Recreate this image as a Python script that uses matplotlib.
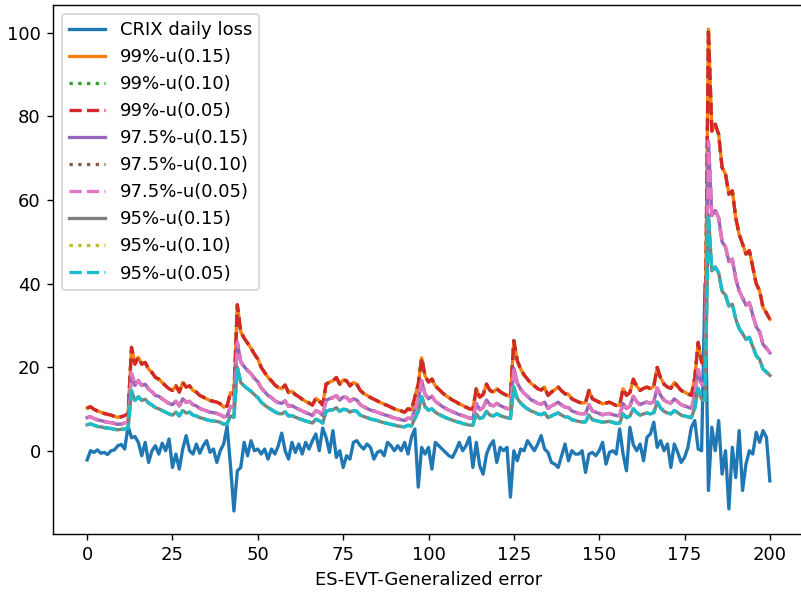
import matplotlib
matplotlib.use("Agg")
import matplotlib.pyplot as plt
import numpy as np

days = np.arange(201)

crix_loss = [
    -2.1, 0.1, -0.3, 0.3, -0.5, -0.3, -0.8, 0.1, 0.3, 1.3,
    1.6, 0.5, 6.0, 3.2, 3.5, 2.1, -1.1, 2.1, -2.7, 0.1,
    1.3, -0.7, 1.9, 0.1, 2.9, -3.9, -0.7, -4.3, 0.5, 3.7,
    0.1, -0.7, 1.7, -0.5, 1.3, 2.5, -0.3, 0.5, -2.7, 0.1,
    1.7, 6.0, -3.5, -14.3, -4.7, -3.9, 2.1, -1.1, 2.5, 0.1,
    0.5, -0.7, 0.5, -1.9, 0.5, -0.7, 1.3, 4.3, 0.1, -1.9,
    2.1, -0.3, 1.7, -0.7, 2.1, 0.5, 2.5, 4.1, 0.1, 5.5,
    3.3, -0.3, 4.9, -1.5, 0.1, -3.9, -1.1, -1.9, 2.1, 2.5,
    1.3, 0.5, 1.7, 0.9, -1.9, -0.3, 0.1, -1.1, 2.1, 1.3,
    0.1, 1.3, 0.1, 2.1, -0.7, 3.3, 5.3, -8.6, 0.9, -0.7,
    0.9, -4.3, 2.1, 1.3, 0.5, -0.3, -1.1, -1.5, 0.1, 2.1,
    0.1, 1.3, 3.3, -3.9, 2.1, -3.5, -5.5, -0.7, 1.3, 2.5,
    -2.7, 0.9, 0.1, 0.9, -11.0, 0.1, -2.3, 0.5, 0.1, 2.5,
    1.3, 0.1, 1.7, 3.7, 0.5, -0.3, -2.7, -3.1, -3.9, -1.1,
    1.7, -2.3, 0.1, -0.7, -0.7, 0.1, -5.1, -0.7, -0.3, -1.1,
    0.1, 2.1, -3.1, -0.3, 0.1, -0.7, 5.3, -0.7, -4.7, 5.7,
    1.5, 0.1, 1.7, -2.3, 3.3, 4.1, 6.9, 0.9, 2.5, 0.1,
    1.7, -3.9, 1.7, -0.3, -2.7, -1.5, 0.9, 5.7, 7.3, 0.5,
    0.1, 40.0, -9.4, 5.7, 0.1, 7.3, -5.5, 0.1, -13.8, 0.9,
    -6.3, 4.9, -9.4, -3.1, 0.1, -0.7, 4.5, 2.1, 4.9, 3.3,
    -7.1,
]

es_99 = [
    10.3, 10.6, 10.0, 9.6, 9.3, 9.0, 8.8, 8.6, 8.3, 8.1,
    8.2, 8.5, 8.9, 24.8, 20.8, 22.4, 20.8, 21.2, 19.6, 18.8,
    17.6, 17.2, 16.4, 15.6, 14.9, 14.5, 15.6, 14.1, 16.4, 15.3,
    15.6, 14.5, 14.1, 13.3, 12.9, 12.5, 12.1, 11.9, 11.7, 11.3,
    10.5, 10.8, 14.0, 13.5, 35.0, 28.5, 27.0, 25.8, 24.6, 23.2,
    22.0, 20.0, 18.8, 17.6, 16.8, 15.8, 15.2, 14.9, 15.8, 14.0,
    14.3, 13.5, 13.0, 12.4, 11.9, 11.5, 11.0, 12.6, 12.0, 11.0,
    16.0, 16.5, 16.8, 17.6, 16.0, 17.0, 16.8, 15.6, 16.4, 16.0,
    14.5, 13.8, 13.3, 12.8, 12.4, 12.0, 11.6, 11.2, 10.9, 10.5,
    10.1, 9.8, 9.6, 9.3, 10.1, 9.8, 12.9, 16.0, 22.3, 18.0,
    16.5, 17.2, 15.6, 14.8, 14.0, 13.3, 12.8, 12.2, 11.8, 11.3,
    10.9, 10.5, 10.1, 10.0, 14.9, 12.9, 13.5, 16.0, 14.5, 14.1,
    14.9, 14.2, 13.7, 13.3, 13.0, 26.4, 21.6, 19.6, 18.2, 17.2,
    16.2, 15.6, 14.9, 14.6, 15.3, 13.3, 14.1, 14.7, 15.3, 14.4,
    13.7, 13.6, 12.5, 12.1, 11.7, 11.5, 11.6, 14.5, 12.5, 12.1,
    11.7, 11.3, 11.5, 11.7, 11.3, 10.9, 11.0, 14.9, 13.3, 14.0,
    17.2, 15.5, 14.5, 15.0, 15.3, 14.9, 15.5, 20.0, 17.5, 16.0,
    15.3, 15.0, 16.4, 15.5, 14.5, 14.1, 13.7, 13.3, 17.5, 26.0,
    21.2, 20.8, 100.8, 76.5, 78.1, 75.7, 67.8, 66.2, 61.4, 62.2,
    55.8, 51.8, 49.5, 47.1, 47.9, 43.9, 40.0, 38.3, 34.3, 33.0,
    31.5,
]

es_975 = [
    8.0, 8.2, 7.8, 7.5, 7.3, 7.1, 6.9, 6.8, 6.6, 6.4,
    6.5, 6.7, 7.0, 18.6, 15.7, 16.9, 15.7, 16.0, 14.8, 14.2,
    13.3, 13.1, 12.5, 11.9, 11.4, 11.1, 11.9, 10.8, 12.5, 11.7,
    11.9, 11.1, 10.8, 10.2, 9.9, 9.6, 9.3, 9.2, 9.0, 8.7,
    8.2, 8.4, 10.7, 10.4, 26.1, 21.3, 20.2, 19.3, 18.5, 17.4,
    16.6, 15.1, 14.2, 13.3, 12.8, 12.0, 11.6, 11.4, 12.0, 10.7,
    10.9, 10.4, 10.0, 9.6, 9.2, 8.9, 8.5, 9.7, 9.3, 8.5,
    12.2, 12.5, 12.8, 13.3, 12.2, 12.9, 12.8, 11.9, 12.5, 12.2,
    11.1, 10.6, 10.2, 9.8, 9.6, 9.3, 9.0, 8.7, 8.5, 8.2,
    7.9, 7.7, 7.5, 7.3, 7.9, 7.7, 9.9, 12.2, 16.8, 13.6,
    12.5, 13.1, 11.9, 11.3, 10.7, 10.2, 9.8, 9.4, 9.1, 8.7,
    8.5, 8.2, 7.9, 7.8, 11.4, 9.9, 10.4, 12.2, 11.1, 10.8,
    11.4, 10.9, 10.5, 10.2, 10.0, 19.8, 16.3, 14.8, 13.8, 13.1,
    12.3, 11.9, 11.4, 11.2, 11.7, 10.2, 10.8, 11.2, 11.7, 11.0,
    10.5, 10.4, 9.6, 9.3, 9.0, 8.9, 9.0, 11.1, 9.6, 9.3,
    9.0, 8.7, 8.9, 9.0, 8.7, 8.5, 8.5, 11.4, 10.2, 10.7,
    13.1, 11.8, 11.1, 11.5, 11.7, 11.4, 11.8, 15.1, 13.3, 12.2,
    11.7, 11.5, 12.5, 11.8, 11.1, 10.8, 10.5, 10.2, 13.3, 19.5,
    16.0, 15.7, 74.1, 56.3, 57.5, 55.8, 50.0, 48.8, 45.3, 45.9,
    41.2, 38.3, 36.6, 34.9, 35.5, 32.5, 29.7, 28.5, 25.5, 24.6,
    23.5,
]

es_95 = [
    6.3, 6.5, 6.2, 5.9, 5.8, 5.6, 5.5, 5.4, 5.2, 5.1,
    5.2, 5.3, 5.5, 14.4, 12.1, 13.0, 12.1, 12.4, 11.5, 11.0,
    10.4, 10.1, 9.7, 9.3, 8.9, 8.6, 9.3, 8.4, 9.7, 9.1,
    9.3, 8.6, 8.4, 8.0, 7.8, 7.5, 7.3, 7.2, 7.1, 6.9,
    6.4, 6.6, 8.4, 8.1, 20.0, 16.4, 15.6, 14.9, 14.3, 13.5,
    12.8, 11.7, 11.0, 10.4, 9.9, 9.4, 9.0, 8.9, 9.4, 8.4,
    8.5, 8.1, 7.8, 7.5, 7.2, 7.0, 6.7, 7.6, 7.3, 6.7,
    9.5, 9.8, 9.9, 10.4, 9.5, 10.0, 9.9, 9.3, 9.7, 9.5,
    8.6, 8.3, 8.0, 7.7, 7.5, 7.3, 7.0, 6.8, 6.6, 6.4,
    6.2, 6.0, 5.9, 5.8, 6.2, 6.0, 7.8, 9.5, 13.0, 10.6,
    9.8, 10.1, 9.3, 8.8, 8.4, 8.0, 7.7, 7.4, 7.1, 6.9,
    6.6, 6.4, 6.2, 6.2, 8.9, 7.8, 8.1, 9.5, 8.6, 8.4,
    8.9, 8.5, 8.2, 8.0, 7.8, 15.3, 12.6, 11.5, 10.7, 10.1,
    9.6, 9.3, 8.9, 8.7, 9.1, 8.0, 8.4, 8.8, 9.1, 8.6,
    8.2, 8.1, 7.5, 7.3, 7.1, 7.0, 7.0, 8.6, 7.5, 7.3,
    7.1, 6.9, 7.0, 7.1, 6.9, 6.6, 6.7, 8.9, 8.0, 8.4,
    10.1, 9.2, 8.6, 8.9, 9.1, 8.9, 9.2, 11.7, 10.3, 9.5,
    9.1, 8.9, 9.7, 9.2, 8.6, 8.4, 8.2, 8.0, 10.3, 15.0,
    12.4, 12.1, 56.5, 43.1, 44.0, 42.6, 38.2, 37.3, 34.7, 35.1,
    31.6, 29.3, 28.1, 26.7, 27.2, 25.0, 22.8, 21.9, 19.6, 18.9,
    18.1,
]

labels = ["CRIX daily loss",
          "99%-u(0.15)", "99%-u(0.10)", "99%-u(0.05)",
          "97.5%-u(0.15)", "97.5%-u(0.10)", "97.5%-u(0.05)",
          "95%-u(0.15)", "95%-u(0.10)", "95%-u(0.05)"]
xlabel = "ES-EVT-Generalized error"

plt.rcParams["font.size"] = 10.4

fig = plt.figure(figsize=(801 / 125, 592 / 125), dpi=125)
ax = fig.add_axes([53 / 801, 58 / 592, 751 / 801, 529 / 592])

lw = 1.9
ax.plot(days, crix_loss, color="C0", lw=lw, label=labels[0])
series = [es_99, es_975, es_95]
styles = ["-", ":", "--"]
k = 1
for s in series:
    for st in styles:
        ax.plot(days, s, color=f"C{k}", ls=st, lw=lw, label=labels[k])
        k += 1

ax.set_xlim(-10, 210)
ax.set_ylim(-19.8, 106.6)
ax.set_xlabel(xlabel)
ax.legend(loc="upper left")
fig.savefig("out.png", dpi=125)
